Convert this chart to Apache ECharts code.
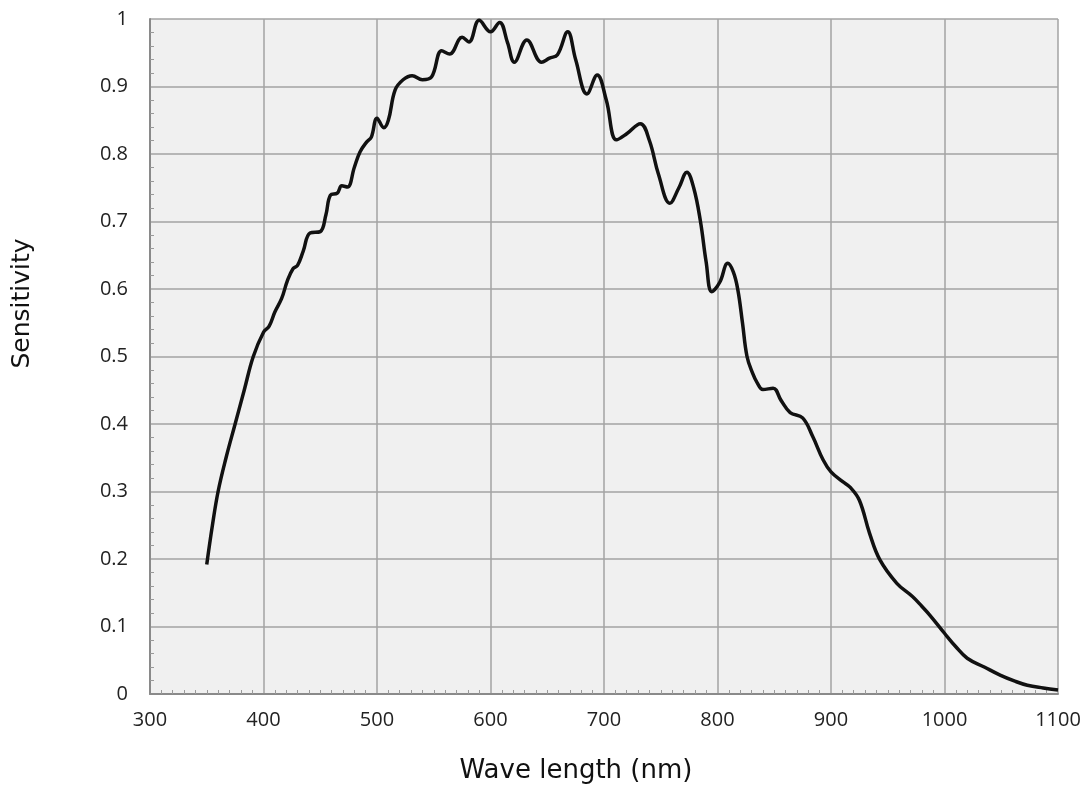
<!DOCTYPE html>
<html>
<head>
<meta charset="utf-8">
<title>Sensitivity</title>
<script src="https://cdn.jsdelivr.net/npm/echarts@6/dist/echarts.min.js"></script>
<style>
  html, body { margin: 0; padding: 0; background: #fff; }
  #chart { width: 1089px; height: 789px; }
</style>
</head>
<body>
<div id="chart"></div>
<script>
// wave length (nm) and sensitivity
const waveLength = [
  350, 355, 360, 367, 375, 383, 391, 400, 405, 410, 416, 421, 426, 430, 435, 441,
  450, 455, 459, 465, 469, 474, 480, 485, 491, 495, 500, 506, 510, 516, 523, 531,
  540, 548, 557, 564, 575, 581, 590, 600, 608, 615, 621, 632, 645, 652, 659, 668,
  675, 685, 694, 702, 711, 720, 732, 740, 748, 758, 766, 773, 779, 785, 790, 795,
  802, 809, 814, 818, 822, 826, 831, 835, 840, 849, 856, 864, 875, 884, 893, 900,
  910, 917, 925, 934, 943, 958, 972, 980, 987, 1000, 1010, 1020, 1035, 1049, 1062,
  1073, 1087, 1100
];
const sensitivity = [
  0.192, 0.25, 0.30, 0.35, 0.40, 0.45, 0.50, 0.536, 0.545, 0.566, 0.586, 0.612, 0.630, 0.635, 0.656, 0.683,
  0.685, 0.71, 0.739, 0.742, 0.753, 0.751, 0.78, 0.803, 0.818, 0.825, 0.853, 0.839, 0.85, 0.895, 0.910, 0.916,
  0.910, 0.914, 0.953, 0.948, 0.973, 0.966, 0.998, 0.981, 0.995, 0.965, 0.936, 0.969, 0.936, 0.942, 0.947, 0.981,
  0.94, 0.889, 0.917, 0.88, 0.821, 0.83, 0.845, 0.82, 0.77, 0.727, 0.75, 0.773, 0.75, 0.70, 0.64, 0.596,
  0.61, 0.638, 0.625, 0.598, 0.55, 0.50, 0.475, 0.461, 0.451, 0.453, 0.435, 0.417, 0.409, 0.381, 0.347, 0.329,
  0.315, 0.306, 0.287, 0.238, 0.199, 0.164, 0.144, 0.13, 0.117, 0.09, 0.07, 0.053, 0.04, 0.028, 0.019,
  0.013, 0.009, 0.006
];
const xMin = 300, xMax = 1100, xStep = 100;
const yMin = 0, yMax = 1, yStep = 0.1;

let chart = echarts.init(document.getElementById("chart"));

let points = waveLength.map((w, i) => [w, sensitivity[i]]);

const gridColor = "#a3a3a3";
const labelStyle = { color: "#222", fontSize: 20, fontFamily: "Open Sans" };

chart.setOption({
  animation: false,
  grid: {
    left: 150,
    right: 31,
    top: 19,
    bottom: 95,
    show: true,
    backgroundColor: "#f0f0f0",
    borderWidth: 0,
  },
  xAxis: {
    type: "value",
    min: xMin,
    max: xMax,
    interval: xStep,
    name: "Wave length (nm)",
    nameLocation: "middle",
    nameGap: 64,
    // title sits a bit left of the plot centre in the original
    nameTextStyle: { color: "#111", fontSize: 26, fontFamily: "DejaVu Sans", padding: [0, 56, 0, 0] },
    axisLine: { show: true, lineStyle: { color: "#8a8a8a", width: 2 } },
    axisTick: { show: false, inside: true },
    minorTick: { show: true, splitNumber: 10, length: 4, lineStyle: { color: "#999" } },
    axisLabel: Object.assign({ margin: 16, formatter: (v) => String(v) }, labelStyle),
    splitLine: { show: true, lineStyle: { color: gridColor, width: 1.5 } },
  },
  yAxis: {
    type: "value",
    min: yMin,
    max: yMax,
    interval: yStep,
    name: "Sensitivity",
    nameLocation: "middle",
    nameGap: 115,
    nameTextStyle: { color: "#111", fontSize: 25, fontFamily: "DejaVu Sans", padding: [0, 0, 0, 106] },
    axisLine: { show: true, lineStyle: { color: "#8a8a8a", width: 2 } },
    axisTick: { show: false, inside: true },
    minorTick: { show: true, splitNumber: 5, length: 4, lineStyle: { color: "#999" } },
    axisLabel: Object.assign({ margin: 22 }, labelStyle),
    splitLine: { show: true, lineStyle: { color: gridColor, width: 1.5 } },
  },
  series: [
    {
      type: "line",
      data: points,
      smooth: 0.4,
      showSymbol: false,
      lineStyle: { color: "#111", width: 3.5 },
    },
  ],
});
</script>
</body>
</html>
